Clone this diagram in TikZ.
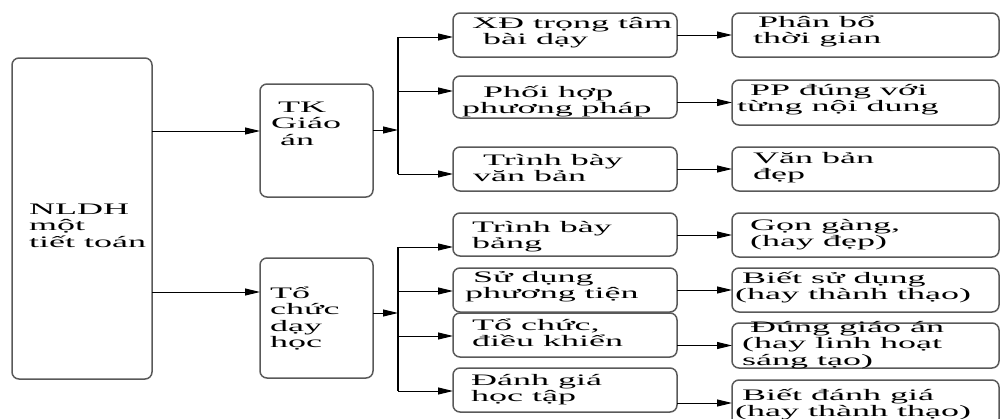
\documentclass[tikz,border=0pt]{standalone}
\usepackage{fontspec}
\setmainfont{Liberation Serif}
\newfontfamily\vnserif[FakeStretch=2.25]{Liberation Serif}
\usetikzlibrary{arrows.meta}
\newcommand\boxtextfont{\vnserif\fontsize{16}{16.5}\selectfont\lineskiplimit=-20pt\relax}
\newcommand\firststrut{\rule{0pt}{17pt}}
\begin{document}
\begin{tikzpicture}[x=1pt,y=-1pt,
  box/.style={draw=black!65,line width=1.5pt,rounded corners=7pt,anchor=north west,inner sep=0pt,outer sep=0pt},
  txt/.style={anchor=north west,inner sep=0pt,align=left,font=\boxtextfont},
  arr/.style={line width=1pt,-{Triangle[length=15pt,width=7pt]}},
  trunk/.style={line width=2pt}]
\useasboundingbox (0,0) rectangle (1002,418);
\clip (0,0) rectangle (1002,418);
% boxes
\node[box,minimum width=140,minimum height=321] (nldh) at (12,58) {};
\node[box,minimum width=113,minimum height=113] (tk) at (260,84) {};
\node[box,minimum width=113,minimum height=120] (tc) at (260,258) {};
\node[box,minimum width=224,minimum height=44] (a1) at (453,13) {};
\node[box,minimum width=224,minimum height=42] (a2) at (453,76) {};
\node[box,minimum width=224,minimum height=44] (a3) at (453,147) {};
\node[box,minimum width=224,minimum height=43] (b1) at (453,213) {};
\node[box,minimum width=224,minimum height=44] (b2) at (453,268) {};
\node[box,minimum width=224,minimum height=44] (b3) at (453,313) {};
\node[box,minimum width=224,minimum height=44] (b4) at (453,368) {};
\node[box,minimum width=267,minimum height=44] (ra1) at (732,13) {};
\node[box,minimum width=267,minimum height=45] (ra2) at (732,80) {};
\node[box,minimum width=267,minimum height=44] (ra3) at (732,147) {};
\node[box,minimum width=267,minimum height=44] (rb1) at (732,213) {};
\node[box,minimum width=267,minimum height=44] (rb2) at (732,268) {};
\node[box,minimum width=267,minimum height=45] (rb3) at (732,323) {};
\node[box,minimum width=267,minimum height=46] (rb4) at (732,380) {};
% texts
\node[txt] (t-nldh) at (29,197) {\firststrut NLDH\\một\\tiết toán};
\node[txt] (t-tk) at (271,95) {\firststrut\hspace*{7pt}TK\\Giáo\\\hspace*{9pt}án};
\node[txt] (t-tc) at (270,281) {\firststrut Tổ\\chức\\dạy\\học};
\node[txt] (t-a1) at (472,11) {\firststrut XĐ trọng tâm\\\hspace*{11pt}bài dạy};
\node[txt] (t-a2) at (462,80) {\firststrut\hspace*{21pt}Phối hợp\\phương pháp};
\node[txt] (t-a3) at (473,148) {\firststrut\hspace*{10pt}Trình bày\\văn bản};
\node[txt] (t-b1) at (472,215) {\firststrut Trình bày\\bảng};
\node[txt] (t-b2) at (465,265) {\firststrut\hspace*{8pt}Sử dụng\\phương tiện};
\node[txt] (t-b3) at (472,313) {\firststrut Tổ chức,\\điều khiển};
\node[txt] (t-b4) at (471,368) {\firststrut Đánh giá\\học tập};
\node[txt] (t-ra1) at (753,10) {\firststrut\hspace*{5pt}Phân bổ\\thời gian};
\node[txt] (t-ra2) at (737,78) {\firststrut\hspace*{13pt}PP đúng với\\từng nội dung};
\node[txt] (t-ra3) at (753,146) {\firststrut Văn bản\\đẹp};
\node[txt] (t-rb1) at (750,213) {\firststrut Gọn gàng,\\(hay đẹp)};
\node[txt] (t-rb2) at (735,266) {\firststrut\hspace*{7pt}Biết sử dụng\\(hay thành thạo)};
\node[txt] (t-rb3) at (742,315) {\firststrut\hspace*{8pt}Đúng giáo án\\(hay linh hoạt\\sáng tạo)};
\node[txt] (t-rb4) at (735,383) {\firststrut\hspace*{7pt}Biết đánh giá\\(hay thành thạo)};
% junction coordinates
\coordinate (ta) at (398,130);
\coordinate (ta1) at (398,37);
\coordinate (ta2) at (398,91);
\coordinate (ta3) at (398,174);
\coordinate (tb) at (398,313);
\coordinate (tb1) at (398,247);
\coordinate (tb2) at (398,291);
\coordinate (tb3) at (398,336);
\coordinate (tb4) at (398,391);
% level 1
\draw[arr] ([yshift=9.5pt]tk.west -| nldh.east) -- ([yshift=9.5pt]tk.west);
\draw[arr] ([yshift=26pt]tc.west -| nldh.east) -- ([yshift=26pt]tc.west);
% level 2 top
\draw[arr] (tk.east |- ta) -- (ta);
\draw[trunk] (ta1) -- (ta3);
\draw[arr] (ta1) -- (a1.west |- ta1);
\draw[arr] (ta2) -- (a2.west |- ta2);
\draw[arr] (ta3) -- (a3.west |- ta3);
% level 2 bottom
\draw[arr] (tc.east |- tb) -- (tb);
\draw[trunk] (tb1) -- (tb4);
\draw[arr] (tb1) -- (b1.west |- tb1);
\draw[arr] (tb2) -- (b2.west |- tb2);
\draw[arr] (tb3) -- (b3.west |- tb3);
\draw[arr] (tb4) -- (b4.west |- tb4);
% level 3
\draw[arr] (a1.east |- ra1.west) -- (ra1.west);
\draw[arr] (a2.east |- ra2.west) -- (ra2.west);
\draw[arr] (a3.east |- ra3.west) -- (ra3.west);
\draw[arr] (b1.east |- rb1.west) -- (rb1.west);
\draw[arr] (b2.east |- rb2.west) -- (rb2.west);
\draw[arr] (b3.east |- rb3.west) -- (rb3.west);
\draw[arr] (b4.east |- rb4.west) -- (rb4.west);
\end{tikzpicture}
\end{document}
